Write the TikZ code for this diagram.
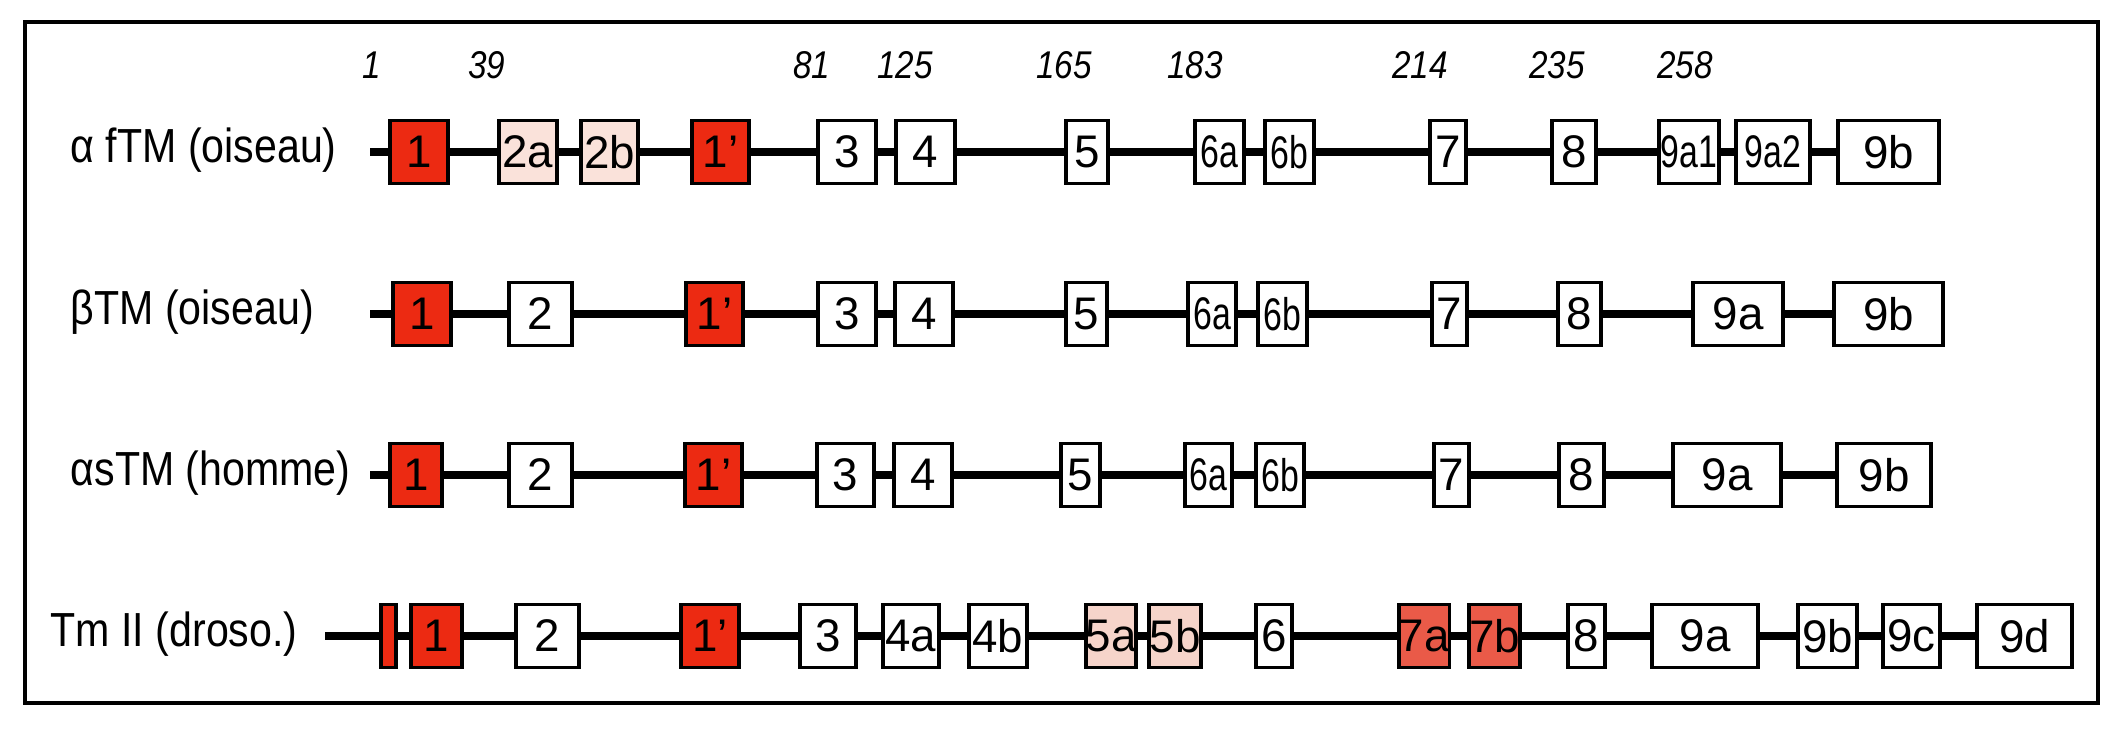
\documentclass[tikz,border=0pt]{standalone}
\usepackage{fontspec}
\setmainfont{Liberation Sans}
\usepackage{graphicx}
\definecolor{exred}{HTML}{EC2A12}
\definecolor{expink}{HTML}{FAE2DA}
\definecolor{exrose}{HTML}{F6D4CA}
\definecolor{exmid}{HTML}{EA5A48}
\newcommand{\nar}[1]{\scalebox{0.74}[1]{#1}}
\newcommand{\cond}[1]{\scalebox{0.86}[1]{#1}}
\tikzset{
  exon/.style={draw, line width=1.1pt, minimum height=0.63cm, inner sep=0pt,
    font=\fontsize{13}{13}\selectfont},
  gene/.style={line width=2pt},
  aapos/.style={inner sep=0pt, font=\fontsize{11}{11}\selectfont\itshape},
  isoname/.style={anchor=west, inner sep=0pt, font=\fontsize{13.6}{14}\selectfont}
}
\begin{document}
\begin{tikzpicture}[x=0.01cm, y=-0.01cm]
\useasboundingbox (0,0) rectangle (2123,736);
\draw[line width=0.9pt] (25,22) rectangle (2098,703);
\foreach \x/\n in {372/1, 487/39, 812/81, 905/125, 1064/165, 1195/183, 1420/214, 1557/235, 1685/258}
  \node[aapos] (p\n) at (\x,65) {\cond{\n}};
\node[isoname] (la) at (70,150) {\cond{α fTM (oiseau)}};
\node[isoname] (lb) at (70,312) {\cond{βTM (oiseau)}};
\node[isoname] (lc) at (70,473) {\cond{αsTM (homme)}};
\node[isoname] (ld) at (50,634) {\cond{Tm II (droso.)}};
\coordinate (a0) at (370,152);
\coordinate (b0) at (370,314);
\coordinate (c0) at (370,475);
\coordinate (d0) at (325,636);
\foreach \id/\cx/\w/\lab/\col [remember=\id as \prev (initially a0)] in
  {a1/419/58/1/exred, a2/528/58/2a/expink, a3/609.5/57/2b/expink, a4/720.5/57/1'/exred,
   a5/847/58/3/white, a6/925.5/59/4/white, a7/1087/42/5/white, a8/1219.5/49/\nar{6a}/white,
   a9/1289.5/49/\nar{6b}/white, a10/1448/36/7/white, a11/1574/44/8/white,
   a12/1689/60/\nar{9a1}/white, a13/1773/74/\nar{9a2}/white, a14/1888.5/101/9b/white} {
  \node[exon, fill=\col, minimum width=\w*0.01cm] (\id) at (\cx,152) {\lab};
  \draw[gene] (\prev) -- (\id);
}
\foreach \id/\cx/\w/\lab/\col [remember=\id as \prev (initially b0)] in
  {b1/422/58/1/exred, b2/540.5/63/2/white, b3/714.5/57/1'/exred, b4/847/58/3/white,
   b5/924/58/4/white, b6/1086.5/41/5/white, b7/1212/48/\nar{6a}/white, b8/1282.5/49/\nar{6b}/white,
   b9/1449.5/35/7/white, b10/1579.5/43/8/white, b11/1738/90/9a/white, b12/1888.5/109/9b/white} {
  \node[exon, fill=\col, minimum width=\w*0.01cm] (\id) at (\cx,314) {\lab};
  \draw[gene] (\prev) -- (\id);
}
\foreach \id/\cx/\w/\lab/\col [remember=\id as \prev (initially c0)] in
  {c1/416/52/1/exred, c2/540.5/63/2/white, c3/713.5/57/1'/exred, c4/845.5/57/3/white,
   c5/923/58/4/white, c6/1080.5/39/5/white, c7/1208.5/47/\nar{6a}/white, c8/1280/48/\nar{6b}/white,
   c9/1451.5/35/7/white, c10/1581.5/45/8/white, c11/1727/108/9a/white, c12/1884/94/9b/white} {
  \node[exon, fill=\col, minimum width=\w*0.01cm] (\id) at (\cx,475) {\lab};
  \draw[gene] (\prev) -- (\id);
}
\foreach \id/\cx/\w/\lab/\col [remember=\id as \prev (initially d0)] in
  {d1/388.5/15//exred, d2/436.5/51/1/exred, d3/547.5/63/2/white, d4/710/58/1'/exred,
   d5/828/56/3/white, d6/911/56/4a/white, d7/998/58/4b/white, d8/1111/50/5a/exrose,
   d9/1175/52/5b/exrose, d10/1274/36/6/white, d11/1424/40/7a/exmid, d12/1494.5/47/7b/exmid,
   d13/1586.5/37/8/white, d14/1705/106/9a/white, d15/1827.5/59/9b/white,
   d16/1911.5/57/9c/white, d17/2024.5/95/9d/white} {
  \node[exon, fill=\col, minimum width=\w*0.01cm] (\id) at (\cx,636) {\lab};
  \draw[gene] (\prev) -- (\id);
}
\end{tikzpicture}
\end{document}
